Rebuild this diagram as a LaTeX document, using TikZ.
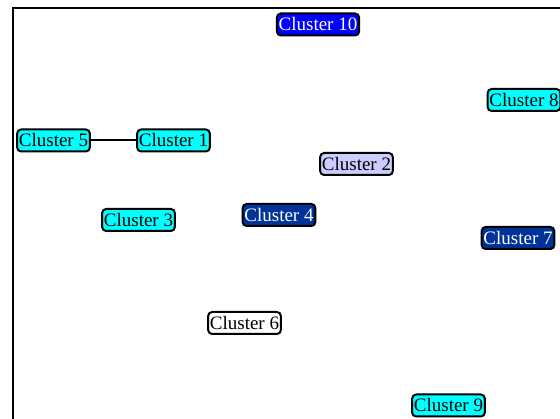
\documentclass[tikz,border=0pt]{standalone}
\usepackage{fontspec}
\setmainfont{Liberation Serif}
\definecolor{cyanc}{RGB}{0,255,255}
\definecolor{bluec}{RGB}{0,0,255}
\definecolor{darkb}{RGB}{0,51,153}
\definecolor{lav}{RGB}{204,204,255}
\begin{document}
\begin{tikzpicture}[x=1pt,y=-1pt,
  cl/.style={draw=black,line width=2pt,rounded corners=4pt,inner xsep=1.8pt,inner ysep=0pt,minimum height=22pt,font=\fontsize{19}{21}\selectfont},
  cy/.style={cl,fill=cyanc,text=black},
  bl/.style={cl,fill=bluec,text=white},
  db/.style={cl,fill=darkb,text=white},
  lv/.style={cl,fill=lav,text=black},
  wh/.style={cl,fill=white,text=black},
  edge/.style={draw=black,line width=2pt}]
\useasboundingbox (0,0) rectangle (560,419);
\begin{scope}
\clip (0,0) rectangle (560,419);
\draw[line width=2pt] (13,8) rectangle (600,460);
\end{scope}
\node[bl] (c10) at (318,24.5) {Cluster 10};
\node[cy] (c8) at (524,100) {Cluster 8};
\node[cy] (c5) at (53.5,140.5) {Cluster 5};
\node[cy] (c1) at (173.5,140.5) {Cluster 1};
\node[lv] (c2) at (356.5,164) {Cluster 2};
\node[cy] (c3) at (138.5,220) {Cluster 3};
\node[db] (c4) at (279,215) {Cluster 4};
\node[db] (c7) at (518,238) {Cluster 7};
\node[wh] (c6) at (244.5,323) {Cluster 6};
\node[cy] (c9) at (448.5,405.5) {Cluster 9};
\draw[edge] (c5) -- (c1);
\end{tikzpicture}
\end{document}
